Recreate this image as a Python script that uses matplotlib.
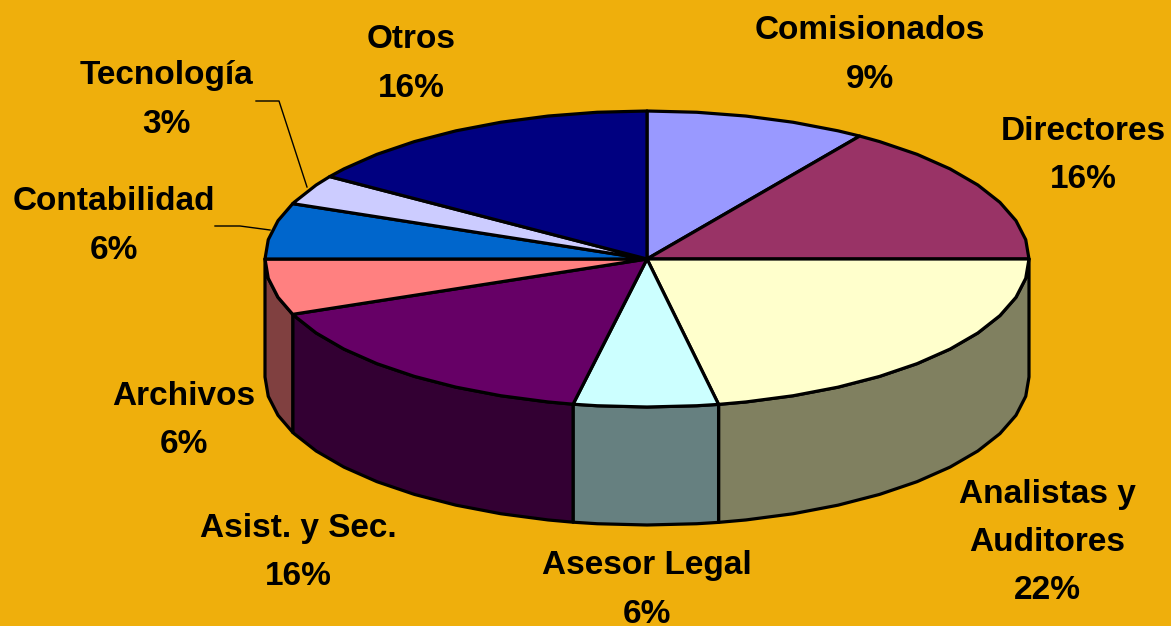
import numpy as np
import matplotlib
matplotlib.use("Agg")
import matplotlib.pyplot as plt
from matplotlib.patches import Polygon

labels = ["Comisionados", "Directores", "Analistas y\nAuditores", "Asesor Legal", "Asist. y Sec.",
          "Archivos", "Contabilidad", "Tecnología", "Otros"]
percents = [9, 16, 22, 6, 16, 6, 6, 3, 16]
# slice sizes as drawn, a bit finer than the rounded labels
shares = [9.4, 15.6, 22, 6.1, 15.8, 6.1, 6.1, 3.3, 15.6]
top_colors = ["#9999FF", "#993366", "#FFFFCC", "#CCFFFF", "#660066", "#FF8080", "#0066CC", "#CCCCFF", "#000080"]
side_colors = ["#666699", "#662244", "#808060", "#668080", "#330033", "#804040", "#003366", "#666680", "#000040"]
label_x = [870, 1083, 1047, 647, 298, 184, 114, 166, 411]
label_y = [55, 155.5, 542.5, 590, 552.5, 420.5, 226, 100, 64]

bg = "#EFAF0C"
cx, cy, rx, ry, depth = 647, 259, 382, 148, 118

fig = plt.figure(figsize=(11.71, 6.26), dpi=100, facecolor=bg)
ax = fig.add_axes([0, 0, 1, 1])
ax.set_xlim(0, 1171)
ax.set_ylim(626, 0)
ax.axis("off")


def rim(a0, a1, dy=0):
    # coarse steps, the outline of the original is slightly faceted
    steps = np.arange(np.ceil(a0 / 7.5) * 7.5, a1, 7.5)
    t = np.radians(np.concatenate([[a0], steps, [a1]]))
    return np.column_stack([cx + rx * np.sin(t), cy + dy - ry * np.cos(t)])


edges = np.cumsum([0] + shares) * 3.6

# side walls, only the front half shows
for i in range(len(shares)):
    a0, a1 = max(edges[i], 90), min(edges[i + 1], 270)
    if a1 <= a0:
        continue
    wall = np.vstack([rim(a0, a1), rim(a0, a1, depth)[::-1]])
    ax.add_patch(Polygon(wall, closed=True, fc=side_colors[i], ec="black", lw=2.3, joinstyle="round"))

# top slices
for i in range(len(shares)):
    pts = np.vstack([[cx, cy], rim(edges[i], edges[i + 1])])
    ax.add_patch(Polygon(pts, closed=True, fc=top_colors[i], ec="black", lw=2.3, joinstyle="round"))

# leader lines
ax.plot([256, 279, 307], [101, 101, 187], color="black", lw=1)
ax.plot([215, 240, 270], [226, 226, 230], color="black", lw=1)

for i in range(len(shares)):
    ax.text(label_x[i], label_y[i], "%s\n%d%%" % (labels[i], percents[i]), ha="center", va="center",
            fontsize=24, fontweight="bold", family="Liberation Sans", color="black", linespacing=1.72)

fig.savefig("out.png", dpi=100, facecolor=bg)
